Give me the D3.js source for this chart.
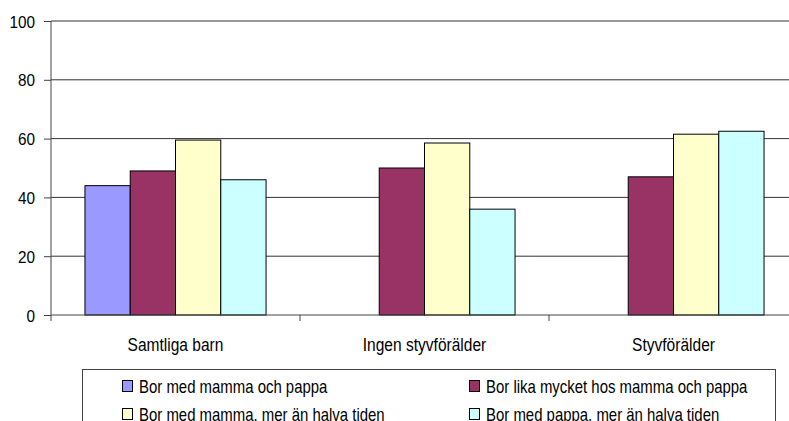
<!DOCTYPE html>
<html>
<head>
<meta charset="utf-8">
<script src="https://cdn.jsdelivr.net/npm/d3@7"></script>
<style>
  body { margin: 0; background: #fff; }
  svg text { font-family: "Liberation Sans", Arial, sans-serif; fill: #000; }
</style>
</head>
<body>
<div id="chart"></div>
<script>
// categories and series
var categories = ["Samtliga barn", "Ingen styvförälder", "Styvförälder"];
var seriesNames = [
    "Bor med mamma och pappa",
    "Bor lika mycket hos mamma och pappa",
    "Bor med mamma, mer än halva tiden",
    "Bor med pappa, mer än halva tiden"
];
var mammaOchPappa = [44, null, null];
var likaMycket = [49, 50, 47];
var mammaMer = [59.5, 58.5, 61.5];
var pappaMer = [46, 36, 62.5];
var yTicks = [0, 20, 40, 60, 80, 100];
var colors = ["#9999ff", "#993366", "#ffffcc", "#ccffff"];

var seriesValues = [mammaOchPappa, likaMycket, mammaMer, pappaMer];

var width = 789, height = 421;

var svg = d3.select("#chart").append("svg")
    .attr("width", width)
    .attr("height", height);

// narrow look: squeeze text horizontally around its anchor
function narrow(sel, x, y, sx) {
    sel.attr("x", 0).attr("y", 0)
        .attr("transform", function(d, i) {
            var px = typeof x === "function" ? x(d, i) : x;
            var py = typeof y === "function" ? y(d, i) : y;
            return "translate(" + px + "," + py + ") scale(" + sx + ",1)";
        });
}

// scales
var x0 = d3.scaleBand()
    .domain(categories)
    .range([51, 798])
    .padding(0);

var x1 = d3.scaleBand()
    .domain(seriesNames)
    .range([0, x0.bandwidth()])
    .paddingInner(0)
    .paddingOuter(0.75);

var y = d3.scaleLinear()
    .domain([0, 100])
    .range([315, 21]);

// gridlines
svg.append("g")
    .attr("class", "grid")
    .selectAll("line")
    .data(yTicks.filter(function(d) { return d > 0; }))
    .enter().append("line")
    .attr("x1", 51)
    .attr("x2", width)
    .attr("y1", function(d) { return y(d); })
    .attr("y2", function(d) { return y(d); })
    .style("stroke", "#333")
    .style("stroke-width", 1);

// bars
var groups = svg.selectAll(".group")
    .data(categories)
    .enter().append("g")
    .attr("class", "group")
    .attr("transform", function(d) { return "translate(" + x0(d) + ",0)"; });

groups.selectAll("rect")
    .data(function(c, i) {
        return seriesNames.map(function(s, j) {
            return { series: s, value: seriesValues[j][i], color: colors[j] };
        }).filter(function(d) { return d.value != null; });
    })
    .enter().append("rect")
    .attr("x", function(d) { return x1(d.series); })
    .attr("width", x1.bandwidth())
    .attr("y", function(d) { return y(d.value); })
    .attr("height", function(d) { return y(0) - y(d.value); })
    .style("fill", function(d) { return d.color; })
    .style("stroke", "#000")
    .style("stroke-width", 1);

// y axis
var yAxis = d3.axisLeft(y)
    .tickValues(yTicks)
    .tickSize(7)
    .tickPadding(9);

var yG = svg.append("g")
    .attr("class", "y-axis")
    .attr("transform", "translate(51,0)")
    .call(yAxis);

yG.select(".domain").attr("d", "M0," + y(100) + "V" + (y(0) + 6)).style("stroke", "#444");
yG.selectAll(".tick line").style("stroke", "#444");
yG.selectAll(".tick text")
    .style("font-size", "17px")
    .attr("dy", null)
    .call(narrow, -16, 6, 0.9);

// x axis
var xG = svg.append("g")
    .attr("class", "x-axis")
    .attr("transform", "translate(0," + y(0) + ")");

xG.append("line")
    .attr("x1", 51).attr("x2", width)
    .attr("y1", 0).attr("y2", 0)
    .style("stroke", "#444");

xG.selectAll(".xtick")
    .data(categories)
    .enter().append("line")
    .attr("class", "xtick")
    .attr("x1", function(d) { return x0(d) + x0.bandwidth(); })
    .attr("x2", function(d) { return x0(d) + x0.bandwidth(); })
    .attr("y1", 0).attr("y2", 6)
    .style("stroke", "#444");

xG.selectAll(".xlabel")
    .data(categories)
    .enter().append("text")
    .attr("class", "xlabel")
    .attr("text-anchor", "middle")
    .style("font-size", "18.5px")
    .text(function(d) { return d; })
    .call(narrow, function(d) { return x0(d) + x0.bandwidth() / 2; }, 36, 0.84);

// legend
var legend = svg.append("g").attr("class", "legend");

legend.append("rect")
    .attr("x", 82.5).attr("y", 369.5)
    .attr("width", 693).attr("height", 80)
    .style("fill", "#fff")
    .style("stroke", "#444");

var legendPos = [[122, 386], [469, 386], [122, 414], [469, 414]];

var items = legend.selectAll(".item")
    .data(seriesNames)
    .enter().append("g")
    .attr("class", "item")
    .attr("transform", function(d, i) { return "translate(" + legendPos[i][0] + "," + legendPos[i][1] + ")"; });

items.append("rect")
    .attr("x", 0.5).attr("y", -5.5)
    .attr("width", 10).attr("height", 11)
    .style("fill", function(d, i) { return colors[i]; })
    .style("stroke", "#000");

items.append("text")
    .style("font-size", "18px")
    .text(function(d) { return d; })
    .call(narrow, 17, 6.5, 0.83);
</script>
</body>
</html>
